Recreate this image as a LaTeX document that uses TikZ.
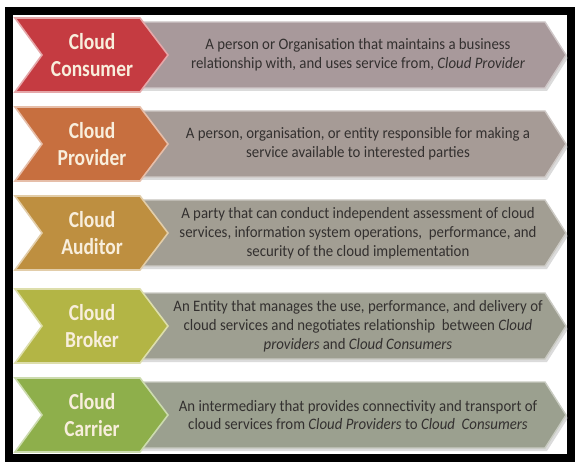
\documentclass[tikz,border=0pt]{standalone}
\usepackage{fontspec}
\setmainfont{Carlito}
\newfontfamily\rolefont[FakeStretch=0.85]{Carlito}
\newfontfamily\descfont[FakeStretch=0.93]{Carlito}
\definecolor{cconsumer}{HTML}{C53B41}
\definecolor{cprovider}{HTML}{C76F3F}
\definecolor{cauditor}{HTML}{BE8F40}
\definecolor{cbroker}{HTML}{B3B545}
\definecolor{ccarrier}{HTML}{8EAF4B}
\definecolor{gconsumer}{HTML}{A8999B}
\definecolor{gprovider}{HTML}{A69B96}
\definecolor{gauditor}{HTML}{A29E93}
\definecolor{gbroker}{HTML}{9E9F91}
\definecolor{gcarrier}{HTML}{9BA08F}
\definecolor{cream}{HTML}{F8EEDC}
\definecolor{desctextcol}{HTML}{33302F}
\tikzset{
  frame/.style={draw=black, line width=8bp},
  chevshape/.style={draw=#1!45!white, line width=1.6bp, fill=#1},
  descarrow/.style={draw=#1!55!white, line width=1.4bp, fill=#1},
  shadowshape/.style={fill=black!40, opacity=0.35},
  roletext/.style={text=cream, align=center, inner sep=0pt,
    font=\rolefont\bfseries\fontsize{23}{28}\selectfont},
  desctext/.style={text=desctextcol, align=center, inner sep=0pt,
    font=\descfont\fontsize{16}{19}\selectfont}
}
\newcommand\rolerow[3]{%
  \path[shadowshape] (142,#1-30) -- (547,#1-30) -- (568,#1+3) -- (547,#1+36) -- (142,#1+36) -- cycle;
  \path[descarrow=#3] (140,#1-33) -- (545,#1-33) -- (566,#1) -- (545,#1+33) -- (140,#1+33) -- cycle;
  \path[chevshape=#2] (15,#1-37) -- (140,#1-37) -- (168,#1) -- (140,#1+37) -- (15,#1+37) -- (42,#1) -- cycle;
}
\begin{document}
\begin{tikzpicture}[x=1bp,y=-1bp]
\useasboundingbox (0,0) rectangle (575,462);
\fill[white] (0,0) rectangle (575,462);
\path[frame] (9,11) rectangle (571,458);

\rolerow{55}{cconsumer}{gconsumer}
\rolerow{144}{cprovider}{gprovider}
\rolerow{233}{cauditor}{gauditor}
\rolerow{326}{cbroker}{gbroker}
\rolerow{415}{ccarrier}{gcarrier}

\node[roletext] (consumer) at (92,55) {Cloud\\Consumer};
\node[roletext] (provider) at (92,144) {Cloud\\Provider};
\node[roletext] (auditor) at (92,233) {Cloud\\Auditor};
\node[roletext] (broker) at (92,326) {Cloud\\Broker};
\node[roletext] (carrier) at (92,415) {Cloud\\Carrier};

\node[desctext] (consumerdesc) at (358,55) {A person or Organisation that maintains a business\\relationship with, and uses service from, \textit{Cloud Provider}};
\node[desctext] (providerdesc) at (358,144) {A person, organisation, or entity responsible for making a\\service available to interested parties};
\node[desctext] (auditordesc) at (358,233) {A party that can conduct independent assessment of cloud\\services, information system operations,\ \ performance, and\\security of the cloud implementation};
\node[desctext] (brokerdesc) at (358,326) {An Entity that manages the use, performance, and delivery of\\cloud services and negotiates relationship\ \ between \textit{Cloud}\\\textit{providers} and \textit{Cloud Consumers}};
\node[desctext] (carrierdesc) at (358,415) {An intermediary that provides connectivity and transport of\\cloud services from \textit{Cloud Providers} to \textit{Cloud\ \ Consumers}};
\end{tikzpicture}
\end{document}
